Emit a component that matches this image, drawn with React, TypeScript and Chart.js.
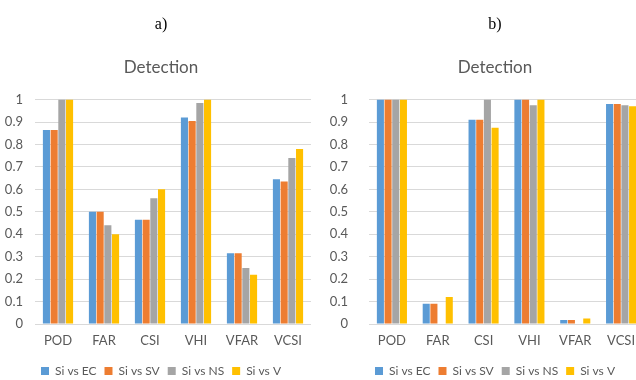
import React, { useEffect, useRef } from "react";
import { Chart, registerables } from "chart.js";

Chart.register(...registerables);

const categories = ["POD", "FAR", "CSI", "VHI", "VFAR", "VCSI"];
const seriesNames = ["Si vs EC", "Si vs SV", "Si vs NS", "Si vs V"];
const seriesColors = ["#5B9BD5", "#ED7D31", "#A5A5A5", "#FFC000"];

// Panel a)
const aSiEC = [0.865, 0.5, 0.465, 0.92, 0.315, 0.645];
const aSiSV = [0.865, 0.5, 0.465, 0.905, 0.315, 0.635];
const aSiNS = [1.0, 0.44, 0.56, 0.985, 0.25, 0.74];
const aSiV = [1.0, 0.4, 0.6, 1.0, 0.22, 0.78];

// Panel b)
const bSiEC = [1.0, 0.09, 0.91, 1.0, 0.018, 0.98];
const bSiSV = [1.0, 0.09, 0.91, 1.0, 0.018, 0.98];
const bSiNS = [1.0, 0, 1.0, 0.975, 0, 0.975];
const bSiV = [1.0, 0.12, 0.875, 1.0, 0.025, 0.97];

const yMin = 0;
const yMax = 1;
const yStep = 0.1;

const FONT = "Lato, 'Open Sans', sans-serif";
const TEXT = "#595959";

type PanelProps = {
  panelTitle: string;
  series: number[][];
  left: number;
  width: number;
  padLeft: number;
  axisWidth: number;
  tickPad: number;
  spacerWidth: number;
};

function Panel(p: PanelProps) {
  const ref = useRef<HTMLCanvasElement | null>(null);
  const height = 387;
  useEffect(() => {
    if (!ref.current) return;
    const chart = new Chart(ref.current, {
      type: "bar",
      data: {
        labels: categories,
        datasets: seriesNames.map((name, i) => ({
          label: name,
          data: p.series[i],
          backgroundColor: seriesColors[i],
          borderWidth: 0,
          categoryPercentage: 0.67,
          barPercentage: 0.92,
        })),
      },
      options: {
        responsive: false,
        animation: false,
        layout: { padding: { left: p.padLeft, right: 0, top: 0, bottom: 0 } },
        plugins: {
          title: {
            display: true,
            text: p.panelTitle,
            color: "#000",
            font: { family: "'Liberation Serif', 'DejaVu Serif', serif", size: 16, weight: "normal" },
            padding: { top: 15, bottom: 0 },
          },
          subtitle: {
            display: true,
            text: "Detection",
            color: TEXT,
            font: { family: FONT, size: 17, weight: "normal" },
            padding: { top: 23, bottom: 22 },
          },
          legend: {
            position: "bottom",
            labels: {
              boxWidth: 8,
              boxHeight: 8,
              padding: 8,
              color: TEXT,
              font: { family: FONT, size: 12 },
            },
          },
          tooltip: { enabled: false },
        },
        scales: {
          x: {
            grid: { display: false, drawTicks: false },
            border: { display: false },
            ticks: { color: TEXT, font: { family: FONT, size: 13 }, padding: 9 },
            afterFit: (s: any) => {
              s.height = 33;
            },
          },
          y: {
            min: yMin,
            max: yMax,
            grid: { color: "#d9d9d9", drawTicks: false },
            border: { display: false },
            ticks: {
              stepSize: yStep,
              padding: p.tickPad,
              color: TEXT,
              font: { family: FONT, size: 13 },
              callback: (v: any) => String(Number(Number(v).toFixed(1))),
            },
            afterFit: (s: any) => {
              s.width = p.axisWidth;
            },
          },
          spacer: {
            type: "linear",
            position: "right",
            display: true,
            grid: { display: false, drawTicks: false },
            border: { display: false },
            ticks: { display: false },
            afterFit: (s: any) => {
              s.width = p.spacerWidth;
            },
          },
        },
      },
    });
    return () => chart.destroy();
  }, []);
  return (
    <div style={{ position: "absolute", left: p.left, top: 0, width: p.width, height }}>
      <canvas ref={ref} width={p.width} height={height} style={{ width: p.width, height, display: "block" }} />
    </div>
  );
}

export default function App() {
  return (
    <div
      style={{
        position: "fixed",
        left: 0,
        top: 0,
        width: 636,
        height: 380,
        overflow: "hidden",
        background: "#fff",
      }}
    >
      <Panel
        panelTitle="a)"
        series={[aSiEC, aSiSV, aSiNS, aSiV]}
        left={0}
        width={319}
        padLeft={3}
        axisWidth={32}
        tickPad={12}
        spacerWidth={8}
      />
      <Panel
        panelTitle="b)"
        series={[bSiEC, bSiSV, bSiNS, bSiV]}
        left={318}
        width={342}
        padLeft={12}
        axisWidth={39}
        tickPad={21}
        spacerWidth={16}
      />
    </div>
  );
}
